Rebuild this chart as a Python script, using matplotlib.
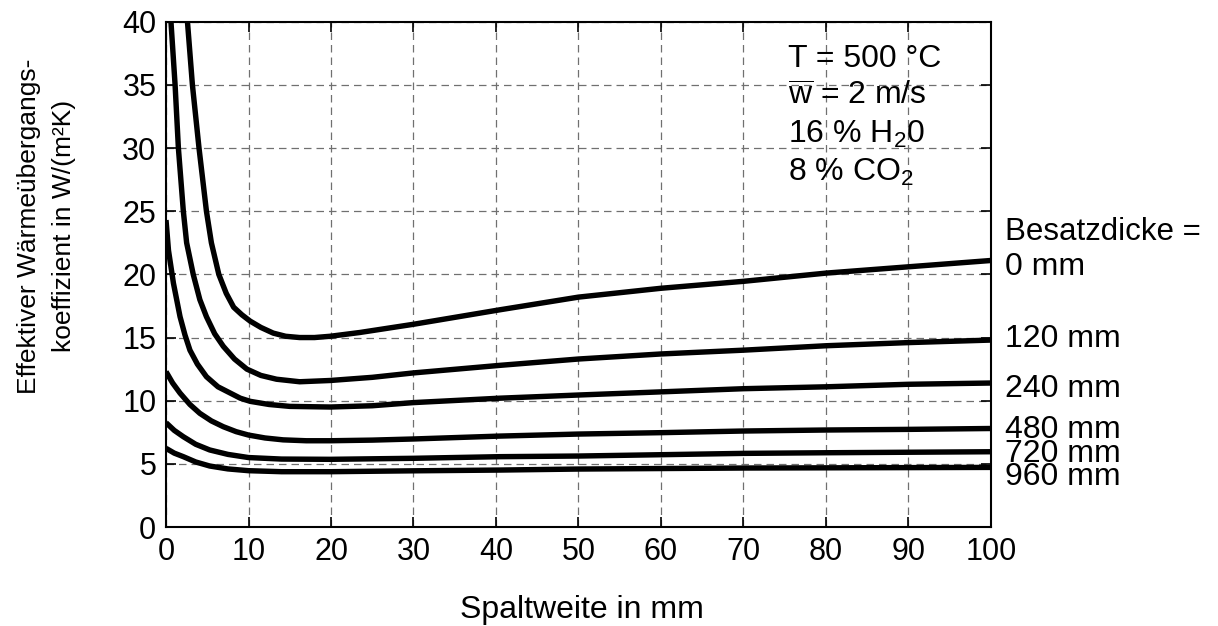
import matplotlib
matplotlib.use("Agg")
import matplotlib.pyplot as plt

plt.rcParams['font.family'] = ['Liberation Sans', 'DejaVu Sans']
plt.rcParams['mathtext.fontset'] = 'custom'
plt.rcParams['mathtext.rm'] = 'Liberation Sans'
plt.rcParams['mathtext.it'] = 'Liberation Sans'

# Spaltweite (mm) and effective heat transfer coefficient W/(m2K)
x_0 = [2.6, 3.2, 4.0, 4.9, 5.5, 6.4, 7.3, 8.2, 9.2, 10.2, 11.5, 13, 14.5, 16.2, 18, 19.9, 23.5, 26.5,
       30, 40.5, 50, 55, 60, 70, 80, 90, 100]
y_0 = [40, 35, 30, 25, 22.5, 20, 18.5, 17.4, 16.8, 16.3, 15.8, 15.35, 15.1, 15.0, 15.0, 15.1, 15.4, 15.7,
       16.05, 17.2, 18.2, 18.55, 18.9, 19.45, 20.1, 20.6, 21.1]

x_120 = [0.6, 1.1, 1.5, 2.1, 2.5, 3.3, 4.1, 4.9, 5.9, 6.95, 8.3, 9.8, 11.5, 13.4, 16.2, 19.9, 25,
         30, 40.5, 50, 60, 70, 80, 90, 100]
y_120 = [40, 35, 30, 25, 22.5, 20, 18, 16.65, 15.3, 14.3, 13.3, 12.5, 12.0, 11.7, 11.5, 11.6, 11.85,
         12.2, 12.8, 13.3, 13.7, 14.0, 14.35, 14.6, 14.8]

x_240 = [0, 0.3, 0.9, 1.7, 2.3, 2.9, 3.8, 4.9, 6.3, 7.8, 9, 10.2, 12.5, 15, 19.9, 25,
         30, 40.5, 50, 60, 70, 80, 90, 100]
y_240 = [24.3, 21.9, 19.3, 16.65, 15.2, 14.0, 12.9, 11.9, 11.1, 10.6, 10.2, 9.95, 9.7, 9.55, 9.5, 9.6,
         9.85, 10.2, 10.45, 10.7, 10.95, 11.1, 11.3, 11.4]

x_480 = [0, 0.8, 1.7, 2.9, 4.1, 5.5, 6.95, 8.5, 10, 12, 14.2, 17, 19.9, 25, 30, 40.5, 50, 60, 70, 80, 90, 100]
y_480 = [12.3, 11.4, 10.6, 9.7, 9.0, 8.4, 7.94, 7.55, 7.28, 7.05, 6.9, 6.83, 6.83, 6.88, 6.97, 7.2, 7.36,
         7.47, 7.6, 7.68, 7.73, 7.8]

x_720 = [0, 1, 2.1, 3.6, 5.3, 7.5, 10, 14, 19.9, 30, 40.5, 50, 70, 80, 100]
y_720 = [8.26, 7.65, 7.15, 6.55, 6.1, 5.75, 5.5, 5.38, 5.36, 5.44, 5.57, 5.62, 5.83, 5.88, 5.96]

x_960 = [0, 1, 2.1, 3.6, 5.3, 7.5, 10, 14, 19.9, 30, 40.5, 50, 70, 100]
y_960 = [6.23, 5.85, 5.57, 5.15, 4.83, 4.6, 4.46, 4.38, 4.38, 4.45, 4.51, 4.59, 4.67, 4.72]

curves = [(x_0, y_0), (x_120, y_120), (x_240, y_240), (x_480, y_480), (x_720, y_720), (x_960, y_960)]

labels = ["0 mm", "120 mm", "240 mm", "480 mm", "720 mm", "960 mm"]
label_y = [19.95, 14.28, 10.32, 7.02, 5.17, 3.33]   # baselines of the curve labels

info_lines = ["T = 500 °C", r"$\overline{\mathrm{w}}$ = 2 m/s", "16 % H$_2$0", "8 % CO$_2$"]
info_y = [36.42, 33.41, 30.40, 27.40]

fig = plt.figure(figsize=(12.18, 6.26), dpi=100)
ax = fig.add_axes([0.1363, 0.1581, 0.6773, 0.8072])

for xs, ys in curves:
    ax.plot(xs, ys, color='black', lw=3.9, solid_capstyle='butt', solid_joinstyle='round')

ax.set_xlim(0, 100)
ax.set_ylim(0, 40)
ax.set_xticks(range(0, 101, 10))
ax.set_yticks(range(0, 41, 5))
ax.grid(True, linestyle=(0, (6, 4)), color='#707070', lw=0.9)
ax.tick_params(direction='in', length=7, width=1.2, top=True, right=True,
               labelsize=22, pad=7)
for s in ax.spines.values():
    s.set_linewidth(1.5)

fig.text(0.478, 1 - 618 / 626, "Spaltweite in mm", fontsize=23, ha='center', va='baseline')
fig.text(0.038, 1 - 226 / 626, "Effektiver Wärmeübergangs-\nkoeffizient in W/(m²K)",
         rotation=90, ha='center', va='center', multialignment='center',
         fontsize=19, linespacing=1.55)

for txt, yv in zip(info_lines, info_y):
    ax.text(75.4, yv, txt, fontsize=23, va='baseline', ha='left')

ax.text(101.7, 22.72, "Besatzdicke =", fontsize=22.5, va='baseline', ha='left', clip_on=False)
for lab, yv in zip(labels, label_y):
    ax.text(101.7, yv, lab, fontsize=23, va='baseline', ha='left', clip_on=False)

fig.savefig("out.png", dpi=100)
